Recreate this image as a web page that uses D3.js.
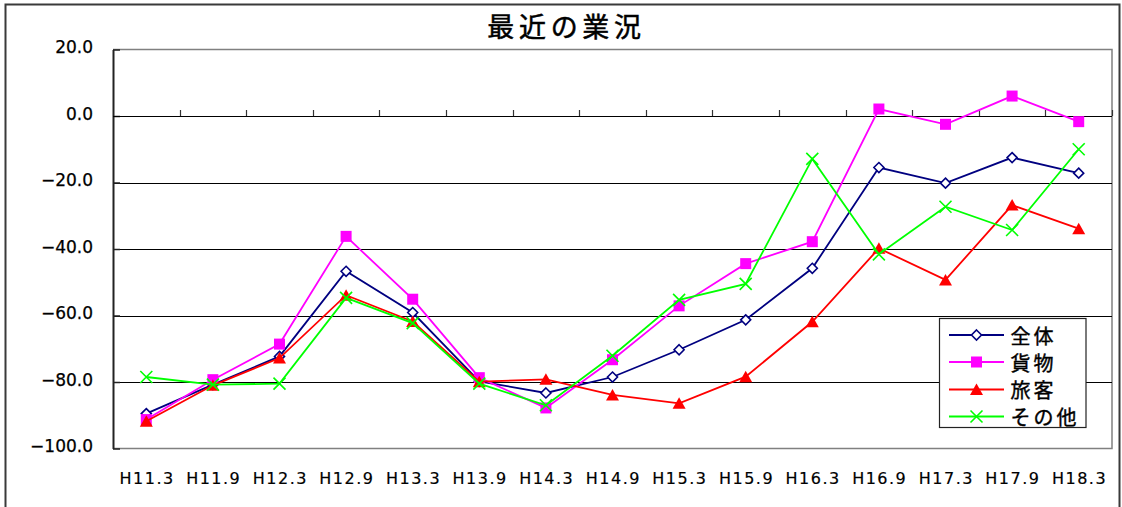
<!DOCTYPE html>
<html>
<head>
<meta charset="utf-8">
<script src="https://cdn.jsdelivr.net/npm/d3@7"></script>
<style>
  html, body { margin: 0; padding: 0; background: #fff; }
  svg { display: block; }
</style>
</head>
<body>
<svg id="chart" width="1122" height="507"></svg>
<script>
const title = "最近の業況";
const categories = ["H11.3","H11.9","H12.3","H12.9","H13.3","H13.9","H14.3","H14.9","H15.3","H15.9","H16.3","H16.9","H17.3","H17.9","H18.3"];
const seriesNames = ["全体","貨物","旅客","その他"];
const zentai = [-89.5, -80.8, -72.3, -46.7, -59.1, -79.8, -83.3, -78.5, -70.3, -61.3, -45.8, -15.5, -20.2, -12.5, -17.2];
const kamotsu = [-91.3, -79.3, -68.6, -36.2, -55.1, -78.7, -87.8, -73.3, -57.1, -44.4, -37.8, 2.1, -2.5, 6.0, -1.7];
const ryokaku = [-91.8, -81.0, -72.8, -53.9, -61.8, -79.9, -79.2, -83.9, -86.4, -78.4, -61.9, -39.8, -49.3, -26.8, -33.9];
const sonota = [-78.5, -80.8, -80.5, -54.7, -62.3, -80.5, -87.0, -72.1, -55.3, -50.5, -12.9, -41.6, -27.3, -34.3, -10.0];
const yTicks = [20, 0, -20, -40, -60, -80, -100];

const seriesValues = [zentai, kamotsu, ryokaku, sonota];
const colors = ["#000080", "#FF00FF", "#FF0000", "#00FF00"];
const markers = ["diamond", "square", "triangle", "x"];

const svg = d3.select("#chart");
const numFont = "'DejaVu Sans', Verdana, sans-serif";
const cjkFont = "'Noto Sans CJK JP', 'Noto Sans', sans-serif";

const plot = { left: 113, right: 1112, top: 49.5, bottom: 448.5 };

const x = d3.scaleBand().domain(categories).range([plot.left, plot.right]).padding(0);
const y = d3.scaleLinear().domain([-100, 20]).range([plot.bottom, plot.top]);
const cx = c => x(c) + x.bandwidth() / 2;

// outer frame
svg.append("rect").attr("x", 5.5).attr("y", 4.5).attr("width", 1114).attr("height", 530)
  .attr("fill", "#fff").attr("stroke", "#3a3a3a").attr("stroke-width", 2);

// title
svg.append("text").attr("x", 566.5).attr("y", 25.5)
  .attr("text-anchor", "middle").attr("dominant-baseline", "central")
  .style("font-family", cjkFont).style("font-size", "27px").style("letter-spacing", "4.7px")
  .attr("fill", "#000").attr("stroke", "#000").attr("stroke-width", 0.5).text(title);

// plot frame (top/right/bottom grey)
svg.append("path")
  .attr("d", `M${plot.left},${plot.top}H${plot.right}V${plot.bottom}H${plot.left}`)
  .attr("fill", "none").attr("stroke", "#808080").attr("stroke-width", 1.5);

// gridlines
const gridG = svg.append("g");
gridG.selectAll("line").data(yTicks.filter(v => v > -100 && v < 20)).join("line")
  .attr("x1", plot.left).attr("x2", plot.right)
  .attr("y1", d => Math.round(y(d)) + 0.5).attr("y2", d => Math.round(y(d)) + 0.5)
  .attr("stroke", "#000").attr("stroke-width", 1);

// y axis
const yAxis = d3.axisLeft(y).tickValues(yTicks).tickSizeInner(-7).tickSizeOuter(0)
  .tickFormat(d => d3.format(".1f")(d).replace("-", "\u2212"));
const yG = svg.append("g").attr("transform", `translate(${plot.left},0)`).call(yAxis);
yG.select(".domain").attr("stroke", "#222").attr("stroke-width", 2);
yG.selectAll(".tick line").attr("stroke", "#222").attr("stroke-width", 1.5);
yG.selectAll(".tick text")
  .attr("x", -20).attr("dy", "0.2em")
  .attr("text-anchor", "end")
  .style("font-family", numFont).style("font-size", "17px")
  .attr("fill", "#000").attr("stroke", "#000").attr("stroke-width", 0.25);

// x axis at y=0 with upward ticks at category boundaries
const xAxisG = svg.append("g");
xAxisG.append("line").attr("x1", plot.left).attr("x2", plot.right)
  .attr("y1", y(0) + 0.5).attr("y2", y(0) + 0.5).attr("stroke", "#000").attr("stroke-width", 1.2);
const boundaries = categories.map(c => x(c)).concat([plot.right]).slice(1);
xAxisG.selectAll("line.tk").data(boundaries).join("line").attr("class", "tk")
  .attr("x1", d => Math.round(d) + 0.5).attr("x2", d => Math.round(d) + 0.5)
  .attr("y1", y(0)).attr("y2", y(0) - 6).attr("stroke", "#333").attr("stroke-width", 1.2);

// x labels (at bottom)
const xLab = d3.axisBottom(x).tickSize(0).tickPadding(0);
const xLabG = svg.append("g").attr("transform", `translate(0,${plot.bottom})`).call(xLab);
xLabG.select(".domain").remove();
xLabG.selectAll(".tick text")
  .attr("y", 30).attr("dy", "0.35em").attr("x", 0.8)
  .style("font-family", numFont).style("font-size", "16px").style("letter-spacing", "1.5px")
  .attr("fill", "#000").attr("stroke", "#000").attr("stroke-width", 0.2);

// marker drawing
function drawMarker(g, type, color) {
  if (type === "diamond") {
    g.append("path").attr("d", "M0,-5L5,0L0,5L-5,0Z").attr("fill", "#fff")
      .attr("stroke", color).attr("stroke-width", 1.6);
  } else if (type === "square") {
    g.append("rect").attr("x", -5.5).attr("y", -5.5).attr("width", 11).attr("height", 11).attr("fill", color);
  } else if (type === "triangle") {
    g.append("path").attr("d", "M0,-6L6.5,5.5L-6.5,5.5Z").attr("fill", color);
  } else {
    g.append("path").attr("d", "M-6,-6L6,6M-6,6L6,-6").attr("stroke", color).attr("stroke-width", 1.6).attr("fill", "none");
  }
}

const line = d3.line().x((d, i) => cx(categories[i])).y(d => y(d));
seriesValues.forEach((vals, si) => {
  const g = svg.append("g");
  g.append("path").datum(vals).attr("d", line).attr("fill", "none")
    .attr("stroke", colors[si]).attr("stroke-width", 1.8);
  vals.forEach((v, i) => {
    const mg = g.append("g").attr("transform", `translate(${cx(categories[i])},${y(v)})`);
    drawMarker(mg, markers[si], colors[si]);
  });
});

// legend
const lg = svg.append("g");
lg.append("rect").attr("x", 939.5).attr("y", 318.5).attr("width", 146.5).attr("height", 109)
  .attr("fill", "#fff").attr("stroke", "#222").attr("stroke-width", 1.2);
const legY = [335, 362, 389.5, 416.5];
seriesNames.forEach((name, si) => {
  const yy = legY[si];
  lg.append("line").attr("x1", 949).attr("x2", 1004).attr("y1", yy).attr("y2", yy)
    .attr("stroke", colors[si]).attr("stroke-width", 1.8);
  const mg = lg.append("g").attr("transform", `translate(976.5,${yy})`);
  drawMarker(mg, markers[si], colors[si]);
  lg.append("text").attr("x", 1010.5).attr("y", yy).attr("dominant-baseline", "central")
    .style("font-family", cjkFont).style("font-size", "20px").style("letter-spacing", "3px")
    .attr("fill", "#000").attr("stroke", "#000").attr("stroke-width", 0.4).text(name);
});
</script>
</body>
</html>
